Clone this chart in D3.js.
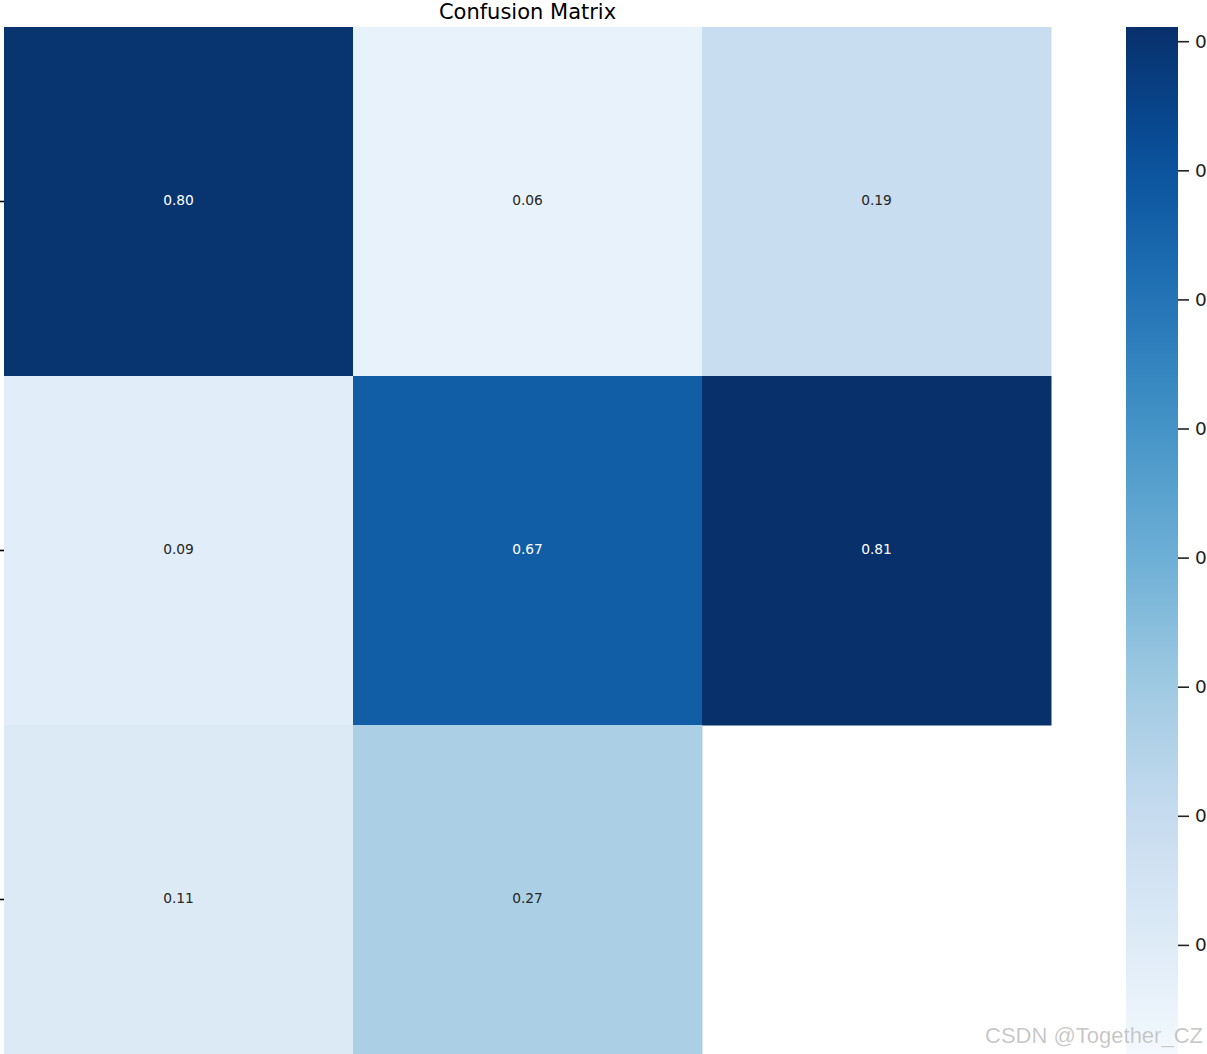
<!DOCTYPE html>
<html>
<head>
<meta charset="utf-8">
<script src="https://cdn.jsdelivr.net/npm/d3@7"></script>
<style>
  html, body { margin: 0; padding: 0; background: #fff; overflow: hidden; }
  svg { display: block; }
</style>
</head>
<body>
<svg id="chart" width="1207" height="1054"></svg>
<script>
// ---- data ----
const rowIndex = [0, 1, 2];
const colIndex = [0, 1, 2];
const row0 = [0.80, 0.06, 0.19];
const row1 = [0.09, 0.67, 0.81];
const row2 = [0.11, 0.27, null];   // null = empty (NaN) cell
const colorbarTicks = [0.1, 0.2, 0.3, 0.4, 0.5, 0.6, 0.7, 0.8];
const vmin = 0, vmax = 0.811;
const titleText = "Confusion Matrix";
const watermark = "CSDN @Together_CZ";

const rows = [row0, row1, row2];
const cells = [];
rowIndex.forEach(r => colIndex.forEach(c => cells.push({ r, c, v: rows[r][c] })));

// matplotlib "Blues" colormap (linear segmented through ColorBrewer stops)
const bluesStops = ["#f7fbff", "#deebf7", "#c6dbef", "#9ecae1", "#6baed6", "#4292c6", "#2171b5", "#08519c", "#08306b"];
const norm = d3.scaleLinear().domain([vmin, vmax]).range([0, 1]).clamp(true);
const cmap = d3.scaleLinear()
  .domain(d3.range(bluesStops.length).map(i => i / (bluesStops.length - 1)))
  .range(bluesStops)
  .interpolate(d3.interpolateRgb);
const color = v => cmap(norm(v));

function luminance(col) {
  const c = d3.rgb(col);
  const f = x => { x /= 255; return x <= 0.03928 ? x / 12.92 : Math.pow((x + 0.055) / 1.055, 2.4); };
  return 0.2126 * f(c.r) + 0.7152 * f(c.g) + 0.0722 * f(c.b);
}

// ---- layout ----
const svg = d3.select("#chart");
const hmLeft = 4, hmTop = 27, cellSize = 349;
const x = d3.scaleBand().domain(colIndex).range([hmLeft, hmLeft + cellSize * 3]).padding(0);
const y = d3.scaleBand().domain(rowIndex).range([hmTop, hmTop + cellSize * 3]).padding(0);

// cells
const g = svg.append("g");
g.selectAll("rect.cell")
  .data(cells.filter(d => d.v !== null))
  .join("rect")
  .attr("class", "cell")
  .attr("x", d => x(d.c))
  .attr("y", d => y(d.r))
  .attr("width", x.bandwidth() + 0.5)
  .attr("height", y.bandwidth() + 0.5)
  .attr("fill", d => color(d.v));

g.selectAll("text.annot")
  .data(cells.filter(d => d.v !== null))
  .join("text")
  .attr("class", "annot")
  .attr("x", d => x(d.c) + x.bandwidth() / 2)
  .attr("y", d => y(d.r) + y.bandwidth() / 2 - 1.5)
  .attr("text-anchor", "middle")
  .attr("dominant-baseline", "central")
  .attr("font-family", "DejaVu Sans")
  .attr("font-size", 13.8)
  .attr("fill", d => luminance(color(d.v)) > 0.408 ? "#262626" : "#ffffff")
  .text(d => d.v.toFixed(2));

// left y-axis tick marks (labels fall outside the picture)
const yAxis = d3.axisLeft(y).tickSize(11).tickFormat("");
svg.append("g")
  .attr("transform", `translate(${hmLeft},0)`)
  .call(yAxis)
  .call(s => s.select(".domain").remove())
  .call(s => s.selectAll(".tick line").attr("stroke", "#000").attr("stroke-width", 1.6));

// title
svg.append("text")
  .attr("x", hmLeft + cellSize * 1.5)
  .attr("y", 19)
  .attr("text-anchor", "middle")
  .attr("font-family", "DejaVu Sans")
  .attr("font-size", 21)
  .attr("fill", "#000")
  .text(titleText);

// colorbar
const cbLeft = 1126, cbWidth = 52;
const cbY = d3.scaleLinear().domain([vmin, vmax]).range([hmTop + cellSize * 3, hmTop]);
const defs = svg.append("defs");
const grad = defs.append("linearGradient")
  .attr("id", "cbgrad").attr("x1", 0).attr("y1", 1).attr("x2", 0).attr("y2", 0);
d3.range(0, 1.0001, 0.05).forEach(t => {
  grad.append("stop").attr("offset", t).attr("stop-color", cmap(t));
});
svg.append("rect")
  .attr("x", cbLeft)
  .attr("y", cbY(vmax))
  .attr("width", cbWidth)
  .attr("height", cbY(vmin) - cbY(vmax))
  .attr("fill", "url(#cbgrad)");

const cbAxis = d3.axisRight(cbY)
  .tickValues(colorbarTicks)
  .tickSize(11)
  .tickPadding(6)
  .tickFormat(d => String(Math.trunc(d)));
svg.append("g")
  .attr("transform", `translate(${cbLeft + cbWidth},0)`)
  .call(cbAxis)
  .call(s => s.select(".domain").remove())
  .call(s => s.selectAll(".tick line").attr("stroke", "#222").attr("stroke-width", 1.6))
  .call(s => s.selectAll(".tick text")
    .attr("font-family", "DejaVu Sans")
    .attr("font-size", 18.5)
    .attr("fill", "#222"));

// watermark
svg.append("text")
  .attr("x", 1203)
  .attr("y", 1043)
  .attr("text-anchor", "end")
  .attr("font-family", "Liberation Sans, Arial, sans-serif")
  .attr("font-size", 22)
  .attr("fill", "#b0b0b0")
  .attr("fill-opacity", 0.8)
  .attr("stroke", "#ffffff")
  .attr("stroke-opacity", 0.4)
  .attr("stroke-width", 0.6)
  .text(watermark);
</script>
</body>
</html>
